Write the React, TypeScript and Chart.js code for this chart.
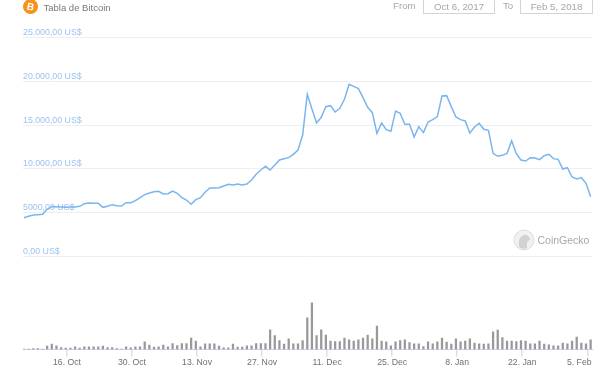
import React, { useEffect, useRef } from "react";
import { Chart, registerables } from "chart.js";

Chart.register(...registerables);

const FONT = '"Liberation Sans", Arial, sans-serif';

// Daily price, US$, from Oct 6 2017 to Feb 5 2018
const prices = [
  4434, 4586, 4738, 4776, 4814, 5385, 5690, 5690, 5652, 5613, 5652, 5652, 5728, 6032, 6108, 6070, 6070, 5613, 5728, 5918,
  5804, 5766, 6146, 6146, 6374, 6717, 7059, 7250, 7402, 7440, 7135, 7173, 7478, 7212, 6717, 6450, 5956, 6488, 6717, 7326,
  7820, 7821, 7859, 8049, 8239, 8163, 8278, 8163, 8278, 8734, 9381, 9875, 10294, 9875, 10446, 11017, 11169, 11283, 11664, 12158,
  13871, 18513, 16839, 15241, 15887, 17105, 17219, 16496, 16915, 17942, 19654, 19426, 19160, 18132, 17029, 16420, 14061, 15241, 14480, 14289,
  16610, 16344, 15089, 15089, 13643, 14822, 14138, 15355, 15622, 15964, 18323, 18361, 17105, 15926, 15622, 15470, 14100, 14784, 15203, 14518,
  14404, 11778, 11436, 11550, 11778, 13224, 11740, 11017, 10903, 11284, 11246, 11056, 11512, 11664, 11170, 11094, 9990, 10142, 9077, 8849,
  9001, 8354, 6832,
];

// Daily volume, billions of US$
const volumes = [
  0.24, 0.24, 0.47, 0.47, 0.24, 1.55, 2.49, 1.74, 0.94, 0.61, 0.61, 1.27, 0.61, 1.27, 1.27, 1.27, 1.27, 1.55, 0.94, 0.94,
  0.47, 0.24, 1.27, 0.8, 1.27, 1.27, 3.62, 2.02, 1.08, 1.27, 2.02, 1.27, 2.82, 1.88, 2.82, 2.82, 5.31, 3.9, 1.27, 2.68,
  2.68, 2.68, 1.55, 0.8, 0.8, 2.49, 1.08, 1.08, 1.74, 1.74, 2.82, 2.82, 2.82, 9.26, 6.58, 4.23, 2.49, 5.03, 2.68, 2.68,
  4.23, 14.9, 21.95, 6.58, 9.26, 6.72, 3.9, 3.76, 3.76, 5.31, 4.56, 3.9, 4.56, 5.31, 6.72, 5.03, 10.95, 3.9, 3.62, 1.74,
  3.62, 4.23, 4.56, 3.29, 2.68, 2.68, 1.41, 3.62, 2.68, 3.62, 5.31, 3.43, 2.49, 5.03, 3.62, 3.9, 5.03, 2.96, 2.68, 2.49,
  2.68, 8.32, 9.07, 5.64, 3.9, 3.9, 3.76, 4.23, 3.9, 2.68, 2.68, 3.9, 2.49, 2.21, 1.74, 1.74, 2.96, 2.68, 3.9, 5.78,
  2.96, 2.68, 4.56,
];

const xTickValues = [9.27, 23.27, 37.27, 51.27, 65.27, 79.27, 93.27, 107.27, 121.27];
const xTickLabels = ["16. Oct", "30. Oct", "13. Nov", "27. Nov", "11. Dec", "25. Dec", "8. Jan", "22. Jan", "5. Feb"];
const yTickValues = [0, 5000, 10000, 15000, 20000, 25000];
const yTickLabels = ["0,00 US$", "5000,00 US$", "10.000,00 US$", "15.000,00 US$", "20.000,00 US$", "25.000,00 US$"];

const shiftLastLabel = {
  id: "shiftLastLabel",
  beforeDraw(chart: any) {
    const items = chart.scales.x.getLabelItems(chart.chartArea);
    const last = items[items.length - 1];
    if (last) last.options.translation[0] -= 8;
  },
};

const abs = (left: number, top: number, extra: React.CSSProperties = {}): React.CSSProperties => ({
  position: "absolute",
  left,
  top,
  whiteSpace: "nowrap",
  ...extra,
});

function DateBox({ left, width, text }: { left: number; width: number; text: string }) {
  return (
    <div
      style={abs(left, -6, {
        width,
        height: 18,
        border: "1px solid #d4d4d4",
        boxSizing: "content-box",
        textAlign: "center",
        lineHeight: "24px",
        fontSize: 9.7,
        color: "#a6a6a6",
      })}
    >
      {text}
    </div>
  );
}

export default function App() {
  const ref = useRef<HTMLCanvasElement>(null);

  useEffect(() => {
    const chart = new Chart(ref.current!, {
      type: "bar",
      data: {
        datasets: [
          {
            type: "line",
            data: prices.map((y, x) => ({ x, y })),
            yAxisID: "y",
            borderColor: "#7ab5ee",
            borderWidth: 1.5,
            pointRadius: 0,
            tension: 0,
          },
          {
            type: "bar",
            data: volumes.map((y, x) => ({ x, y })),
            yAxisID: "y2",
            backgroundColor: "#999999",
            barThickness: 1.6,
          },
        ],
      } as any,
      plugins: [shiftLastLabel],
      options: {
        responsive: false,
        animation: false,
        layout: { padding: { left: 23, right: 20.5, top: 37.5, bottom: 0 } },
        plugins: { legend: { display: false }, tooltip: { enabled: false } },
        scales: {
          x: {
            type: "linear",
            offset: false,
            min: -0.2,
            max: 122.4,
            afterBuildTicks: (s: any) => {
              s.ticks = xTickValues.map((value) => ({ value }));
            },
            afterFit: (s: any) => {
              s.height = 27.5;
            },
            grid: { offset: false, drawOnChartArea: false, drawTicks: true, tickLength: 7, color: "#d8e1f2", lineWidth: 1.5 },
            border: { display: true, color: "#ccd6eb", width: 1 },
            ticks: {
              autoSkip: false,
              maxRotation: 0,
              padding: 1,
              color: "#707070",
              font: { family: FONT, size: 8.7 },
              callback: (v: any) => xTickLabels[xTickValues.indexOf(v)],
            },
          },
          y: {
            type: "linear",
            min: -10616,
            max: 25000,
            afterBuildTicks: (s: any) => {
              s.ticks = yTickValues.map((value) => ({ value }));
            },
            afterFit: (s: any) => {
              s.width = 0;
            },
            grid: { drawTicks: false, color: "#eeeeee", lineWidth: 1 },
            border: { display: false },
            ticks: {
              mirror: true,
              padding: 0,
              labelOffset: -5,
              color: "#9cc3ee",
              font: { family: FONT, size: 8.8 },
              callback: (v: any) => yTickLabels[yTickValues.indexOf(v)],
            },
          },
          y2: {
            type: "linear",
            display: false,
            min: 0,
            max: 146.64,
          },
        },
      } as any,
    });
    return () => chart.destroy();
  }, []);

  return (
    <div
      style={abs(0, 0, {
        width: 613,
        height: 377,
        overflow: "hidden",
        background: "#fff",
        fontFamily: FONT,
      })}
    >
      <canvas ref={ref} width={613} height={377} style={{ display: "block" }} />
      <div
        style={abs(23, -1, {
          width: 15,
          height: 15,
          borderRadius: "50%",
          background: "#f7931a",
          color: "#fff",
          fontSize: 10,
          fontWeight: 700,
          lineHeight: "15px",
          textAlign: "center",
          transform: "rotate(12deg)",
        })}
      >
        B
      </div>
      <div style={abs(43.5, 2, { fontSize: 9.5, lineHeight: "12px", color: "#777" })}>Tabla de Bitcoin</div>
      <div style={abs(393, 0, { fontSize: 9.7, lineHeight: "12px", color: "#a6a6a6" })}>From</div>
      <DateBox left={423} width={70} text="Oct 6, 2017" />
      <div style={abs(503, 0, { fontSize: 9.7, lineHeight: "12px", color: "#a6a6a6" })}>To</div>
      <DateBox left={520} width={71} text="Feb 5, 2018" />
      <svg width={22} height={22} style={abs(513, 229)}>
        <circle cx={11} cy={11} r={10} fill="#f1f1f1" stroke="#dddddd" />
        <path d="M6 18 C5 10 8 6 12 6 C15 6 17 8 17 11 C15 12 14 12 14 14 L14 19 C11 20 8 20 6 18 Z" fill="#d2d2d2" />
      </svg>
      <div style={abs(537.5, 234, { fontSize: 10.5, lineHeight: "12px", color: "#a8a8a8" })}>CoinGecko</div>
    </div>
  );
}
